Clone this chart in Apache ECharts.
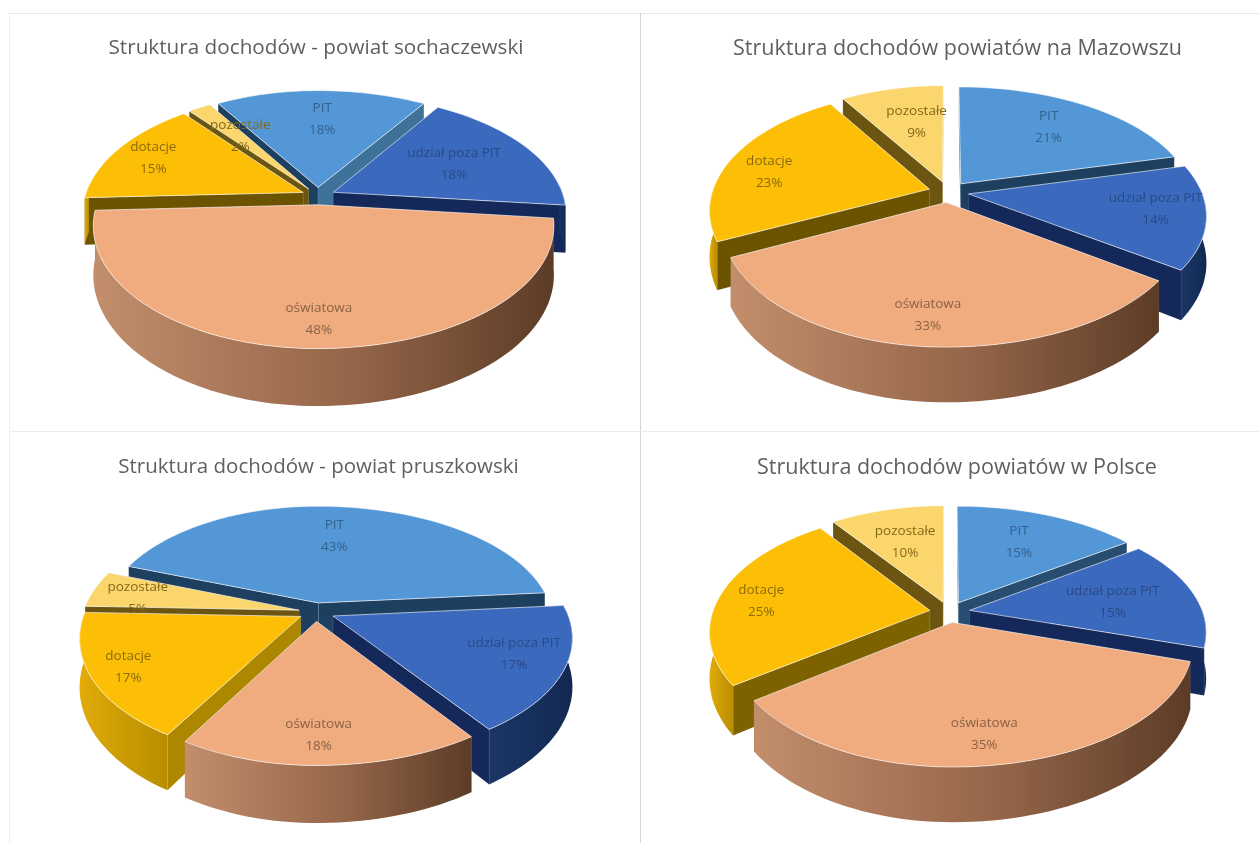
<!DOCTYPE html>
<html lang="pl">
<head>
<meta charset="utf-8">
<title>Struktura dochodów</title>
<style>
html,body{margin:0;padding:0;background:#fff}
#c{width:1259px;height:843px;filter:blur(0.7px)}
</style>
<script src="https://cdn.jsdelivr.net/npm/echarts@6/dist/echarts.min.js"></script>
</head>
<body>
<div id="c"></div>
<script>
const categories = ['PIT', 'udział poza PIT', 'oświatowa', 'dotacje', 'pozostałe'];
const titles = [
  'Struktura dochodów - powiat sochaczewski',
  'Struktura dochodów powiatów na Mazowszu',
  'Struktura dochodów - powiat pruszkowski',
  'Struktura dochodów powiatów w Polsce'
];
const sochaczewski = [18, 18, 48, 15, 2];
const mazowsze = [21, 14, 33, 23, 9];
const pruszkowski = [43, 17, 18, 17, 5];
const polska = [15, 15, 35, 25, 10];
const pieValues = [sochaczewski, mazowsze, pruszkowski, polska];

// geometry of each drawn pie (not data)
const pieLayout = [
  {cx: 318, cy: 196, Rp: 230, Rm: 218, Ry: 116, k: 0.17, depth: 47, ex: 0.075, start: 328, tx: 311, ty: 47, ts: 20.7},
  {cx: 948, cy: 192, Rp: 233, Rm: 217, Ry: 116, k: 0.17, depth: 45, ex: 0.09, start: 0, tx: 952.5, ty: 47, ts: 21.5},
  {cx: 316, cy: 612, Rp: 234, Rm: 216, Ry: 116, k: 0.17, depth: 47, ex: 0.08, start: 290, tx: 313.5, ty: 466, ts: 20.5},
  {cx: 949, cy: 612, Rp: 233, Rm: 217, Ry: 116, k: 0.17, depth: 45, ex: 0.09, start: 0, tx: 952, ty: 466, ts: 21.5}
];
const labelNudge = [
  [[4, 1], [-12, 4], [7, 23], [-22, -4], [9, 5]],
  [[1, -1], [27, 0], [-2, 21], [-24, 4], [10, 6]],
  [[-2, 2], [28, 2], [-3, 22], [-34, 10], [-21, 3]],
  [[-3, 1], [-10, 4], [3, 21], [-26, 3], [2, 6]]
];
const sliceStyle = [
  {top: '#5497d6', wallDark: '#1d3f60', wallLight: '#3f7299', outer: ['#2f5f8c', '#1d3f60', '#173552'], text: '#33628f'},
  {top: '#3a69bd', wallDark: '#14285a', wallLight: '#1f3d75', outer: ['#1c3563', '#16305c', '#122850'], text: '#2a4a85'},
  {top: '#f0ab7f', wallDark: '#7a5238', wallLight: '#a4714e', outer: ['#c28e6c', '#96664a', '#5c3c27'], text: '#8b6345'},
  {top: '#fdbf06', wallDark: '#6b5300', wallLight: '#ae8700', outer: ['#e2ab08', '#c99a04', '#b98d00'], text: '#8a6a0c'},
  {top: '#fbd66c', wallDark: '#6b5510', wallLight: '#9a7d10', outer: ['#c9a83c', '#a98a20', '#8a7010'], text: '#84691a'}
];

const rad = d => d * Math.PI / 180;

function project(L, u, v, h) {
  const s = 1 / (1 - L.k * v);
  const R = u >= 0 ? L.Rp : L.Rm;
  return [L.cx + R * u * s, L.cy + L.Ry * v * s + (h ? L.depth * s : 0)];
}
function clamp01(t) { return Math.max(0, Math.min(1, t)); }
function mix(a, b, t) {
  const pa = [1, 3, 5].map(i => parseInt(a.substr(i, 2), 16));
  const pb = [1, 3, 5].map(i => parseInt(b.substr(i, 2), 16));
  return 'rgb(' + pa.map((x, i) => Math.round(x + (pb[i] - x) * t)).join(',') + ')';
}
function spans(values, start) {
  const total = values.reduce((a, b) => a + b, 0);
  let acc = start;
  return values.map(v => {
    const from = acc;
    acc += v / total * 360;
    return [from, acc];
  });
}

function seriesFor(idx) {
  const values = pieValues[idx];
  const L = pieLayout[idx];
  const sp = spans(values, L.start);
  const mids = sp.map(s => (s[0] + s[1]) / 2);
  const order = mids.map((m, i) => [-Math.cos(rad(m)), i]).sort((a, b) => a[0] - b[0]).map(e => e[1]);
  return {
    type: 'custom',
    coordinateSystem: 'none',
    name: titles[idx],
    silent: true,
    animation: false,
    data: values.map((v, i) => ({name: categories[i], value: [v, i]})),
    renderItem(params, api) {
      const i = api.value(1);
      const pct = api.value(0);
      const st = sliceStyle[i];
      const [a0, a1] = sp[i];
      const mid = mids[i];
      const ox = L.ex * Math.sin(rad(mid));
      const oy = -L.ex * Math.cos(rad(mid));
      const disk = a => [ox + Math.sin(rad(a)), oy - Math.cos(rad(a))];
      const base = (order.indexOf(i) + 1) * 10;
      const children = [];
      const tip = [ox, oy];

      const wall = (ang, side) => {
        const d = disk(ang);
        const nx = side * Math.cos(rad(ang));
        const t = clamp01((nx - 0.5) / 0.3);
        return {
          type: 'polygon',
          z2: base + (side * Math.sin(rad(ang)) > 0 ? 2 : 1),
          shape: {points: [project(L, tip[0], tip[1], 0), project(L, d[0], d[1], 0), project(L, d[0], d[1], 1), project(L, tip[0], tip[1], 1)]},
          style: {fill: mix(st.wallDark, st.wallLight, t), stroke: 'rgba(255,255,255,0.18)', lineWidth: 0.5}
        };
      };
      children.push(wall(a0, -1), wall(a1, 1));

      const arc = [];
      const n = Math.max(6, Math.ceil((a1 - a0) / 2));
      for (let j = 0; j <= n; j++) arc.push(a0 + (a1 - a0) * j / n);
      const visible = arc.filter(a => Math.cos(rad(a)) <= 0.06);
      if (visible.length > 1) {
        const upper = visible.map(a => { const d = disk(a); return project(L, d[0], d[1], 0); });
        const lower = visible.map(a => { const d = disk(a); return project(L, d[0], d[1], 1); }).reverse();
        children.push({
          type: 'polygon',
          z2: base + 3,
          shape: {points: upper.concat(lower)},
          style: {
            fill: {type: 'linear', x: 0, y: 0, x2: 1, y2: 0, colorStops: [
              {offset: 0, color: st.outer[0]}, {offset: 0.55, color: st.outer[1]}, {offset: 1, color: st.outer[2]}
            ]}
          }
        });
      }

      const topPts = [project(L, tip[0], tip[1], 0)].concat(arc.map(a => { const d = disk(a); return project(L, d[0], d[1], 0); }));
      children.push({
        type: 'polygon',
        z2: base + 4,
        shape: {points: topPts},
        style: {fill: st.top, stroke: 'rgba(255,255,255,0.6)', lineWidth: 1, lineJoin: 'round'}
      });

      const f = 0.68;
      const lu = ox + f * Math.sin(rad(mid));
      const lv = oy - f * Math.cos(rad(mid));
      const lp = project(L, lu, lv, 0);
      const nudge = labelNudge[idx][i];
      children.push({
        type: 'text',
        z2: 500,
        x: lp[0] + nudge[0],
        y: lp[1] + nudge[1],
        style: {
          text: categories[i] + '\n' + pct + '%',
          fill: st.text,
          font: '13.5px "Open Sans"',
          lineHeight: 22,
          align: 'center',
          verticalAlign: 'middle'
        }
      });
      return {type: 'group', children};
    }
  };
}

const chart = echarts.init(document.getElementById('c'), null, {renderer: 'canvas'});
chart.setOption({
  backgroundColor: '#ffffff',
  animation: false,
  title: titles.map((t, i) => ({
    text: t,
    left: pieLayout[i].tx,
    top: pieLayout[i].ty - 14,
    textAlign: 'center',
    textStyle: {fontFamily: 'Open Sans', fontSize: pieLayout[i].ts, fontWeight: 'normal', color: '#5f5f5f'}
  })),
  graphic: [
    {type: 'line', silent: true, shape: {x1: 8, y1: 13.5, x2: 1259, y2: 13.5}, style: {stroke: '#e6e6e6', lineWidth: 1}},
    {type: 'line', silent: true, shape: {x1: 9.5, y1: 13, x2: 9.5, y2: 843}, style: {stroke: '#efefef', lineWidth: 1}},
    {type: 'line', silent: true, shape: {x1: 640.5, y1: 13, x2: 640.5, y2: 843}, style: {stroke: '#d6d6d6', lineWidth: 1}},
    {type: 'line', silent: true, shape: {x1: 9, y1: 431.5, x2: 1259, y2: 431.5}, style: {stroke: '#ececec', lineWidth: 1}}
  ],
  series: pieValues.map((_, i) => seriesFor(i))
});
</script>
</body>
</html>
